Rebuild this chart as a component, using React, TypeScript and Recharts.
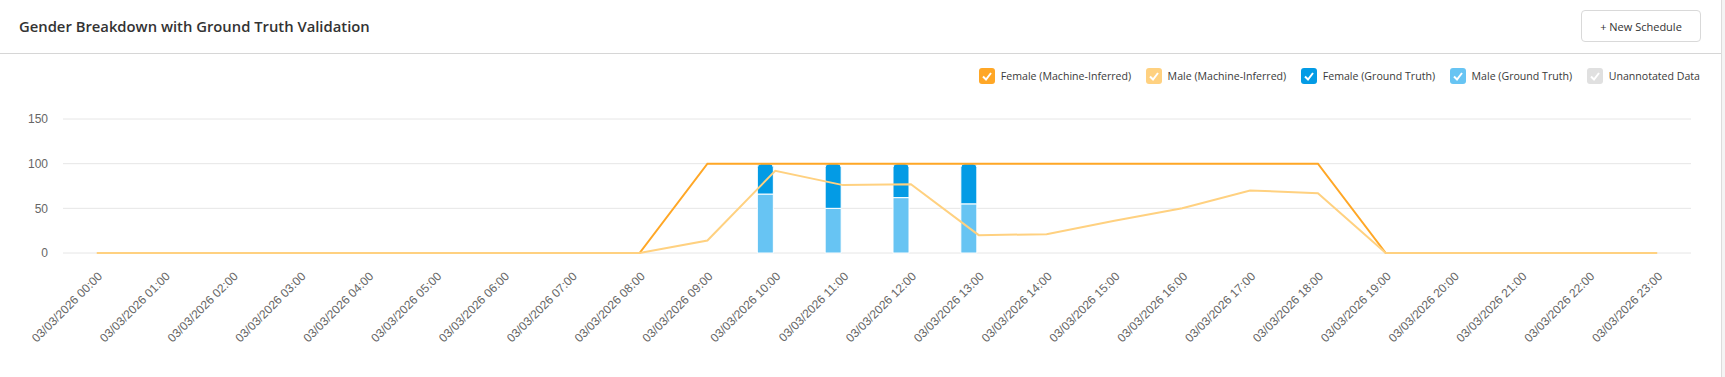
import React from 'react'
import { ComposedChart, Line, Bar, XAxis, YAxis, CartesianGrid } from 'recharts'

const hours = [
  '03/03/2026 00:00', '03/03/2026 01:00', '03/03/2026 02:00', '03/03/2026 03:00',
  '03/03/2026 04:00', '03/03/2026 05:00', '03/03/2026 06:00', '03/03/2026 07:00',
  '03/03/2026 08:00', '03/03/2026 09:00', '03/03/2026 10:00', '03/03/2026 11:00',
  '03/03/2026 12:00', '03/03/2026 13:00', '03/03/2026 14:00', '03/03/2026 15:00',
  '03/03/2026 16:00', '03/03/2026 17:00', '03/03/2026 18:00', '03/03/2026 19:00',
  '03/03/2026 20:00', '03/03/2026 21:00', '03/03/2026 22:00', '03/03/2026 23:00',
]
const femaleInferred = [0, 0, 0, 0, 0, 0, 0, 0, 0, 100, 100, 100, 100, 100, 100, 100, 100, 100, 100, 0, 0, 0, 0, 0]
const maleInferred = [0, 0, 0, 0, 0, 0, 0, 0, 0, 14, 92, 76, 77, 20, 21, 36, 50, 70, 67, 0, 0, 0, 0, 0]
const femaleTruth = [null, null, null, null, null, null, null, null, null, null, 34, 50, 38, 45, null, null, null, null, null, null, null, null, null, null]
const maleTruth = [null, null, null, null, null, null, null, null, null, null, 66, 50, 62, 55, null, null, null, null, null, null, null, null, null, null]
const unannotated = [null, null, null, null, null, null, null, null, null, null, null, null, null, null, null, null, null, null, null, null, null, null, null, null]
const yTicks = [0, 50, 100, 150]

const series = [
  { name: 'Female (Machine-Inferred)', color: '#ffa726' },
  { name: 'Male (Machine-Inferred)', color: '#ffd180' },
  { name: 'Female (Ground Truth)', color: '#039be5' },
  { name: 'Male (Ground Truth)', color: '#67c4f3' },
  { name: 'Unannotated Data', color: '#e0e0e0' },
]

const data = hours.map((h, i) => ({
  hour: h,
  femaleInferred: femaleInferred[i],
  maleInferred: maleInferred[i],
  femaleTruth: femaleTruth[i],
  maleTruth: maleTruth[i],
  unannotated: unannotated[i],
}))

const uiFont = '"Open Sans", "Noto Sans", sans-serif'
const axisFont = '"Liberation Sans", Arial, sans-serif'

const CheckLegend = () => (
  <div
    style={{
      position: 'absolute',
      top: 68,
      right: 25,
      display: 'flex',
      alignItems: 'center',
      gap: 14.5,
      fontFamily: uiFont,
      fontSize: 10.6,
      color: '#3a3a3a',
    }}
  >
    {series.map((s) => (
      <div key={s.name} style={{ display: 'flex', alignItems: 'center', gap: 6 }}>
        <div style={{ width: 16, height: 16, borderRadius: 3, background: s.color }}>
          <svg width={16} height={16}>
            <polyline points="4,8.5 7,11.5 12,5" fill="none" stroke="#fff" strokeWidth={2} />
          </svg>
        </div>
        <span>{s.name}</span>
      </div>
    ))}
  </div>
)

export default function App() {
  return (
    <div style={{ position: 'relative', width: 1725, height: 377, background: '#fff', overflow: 'hidden' }}>
      <style>{'body{margin:0}'}</style>
      <div
        style={{
          position: 'absolute',
          left: 19,
          top: 16,
          fontFamily: uiFont,
          fontWeight: 600,
          fontSize: 14.8,
          color: '#333',
        }}
      >
        Gender Breakdown with Ground Truth Validation
      </div>
      <div
        style={{
          position: 'absolute',
          left: 1581,
          top: 10,
          width: 118,
          height: 30,
          border: '1px solid #d9d9d9',
          borderRadius: 4,
          display: 'flex',
          alignItems: 'center',
          justifyContent: 'center',
          fontFamily: uiFont,
          fontSize: 11,
          color: '#333',
        }}
      >
        + New Schedule
      </div>
      <div style={{ position: 'absolute', left: 0, top: 53, width: 1721, height: 1, background: '#d6d6d6' }} />
      <div style={{ position: 'absolute', left: 1721, top: 0, width: 1, height: 377, background: '#dcdcdc' }} />
      <div style={{ position: 'absolute', left: 1722, top: 0, width: 3, height: 377, background: '#f4f4f4' }} />
      <CheckLegend />
      <div style={{ position: 'absolute', left: 0, top: 54 }}>
        <ComposedChart width={1725} height={323} data={data} margin={{ top: 65, right: 34, bottom: 0, left: 0 }}>
          <CartesianGrid vertical={false} stroke="#e6e6e6" />
          <XAxis
            dataKey="hour"
            interval={0}
            angle={-45}
            textAnchor="end"
            height={124}
            tickMargin={12}
            tickLine={false}
            axisLine={false}
            tick={{ fill: '#666', fontSize: 12, fontFamily: axisFont }}
          />
          <YAxis
            domain={[0, 150]}
            ticks={yTicks}
            width={63}
            tickMargin={9}
            tickLine={false}
            axisLine={false}
            tick={{ fill: '#666', fontSize: 12, fontFamily: axisFont }}
          />
          <Line
            type="linear"
            dataKey="femaleInferred"
            stroke={series[0].color}
            strokeWidth={2}
            dot={false}
            isAnimationActive={false}
          />
          <Line
            type="linear"
            dataKey="maleInferred"
            stroke={series[1].color}
            strokeWidth={2}
            dot={false}
            isAnimationActive={false}
          />
          <Bar dataKey="maleTruth" stackId="gt" barSize={16} fill={series[3].color} stroke="#fff" strokeWidth={1} isAnimationActive={false} />
          <Bar
            dataKey="femaleTruth"
            stackId="gt"
            barSize={16}
            fill={series[2].color}
            stroke="#fff"
            strokeWidth={1}
            radius={[4, 4, 0, 0]}
            isAnimationActive={false}
          />
          <Bar dataKey="unannotated" stackId="un" barSize={16} fill={series[4].color} isAnimationActive={false} />
        </ComposedChart>
      </div>
    </div>
  )
}
